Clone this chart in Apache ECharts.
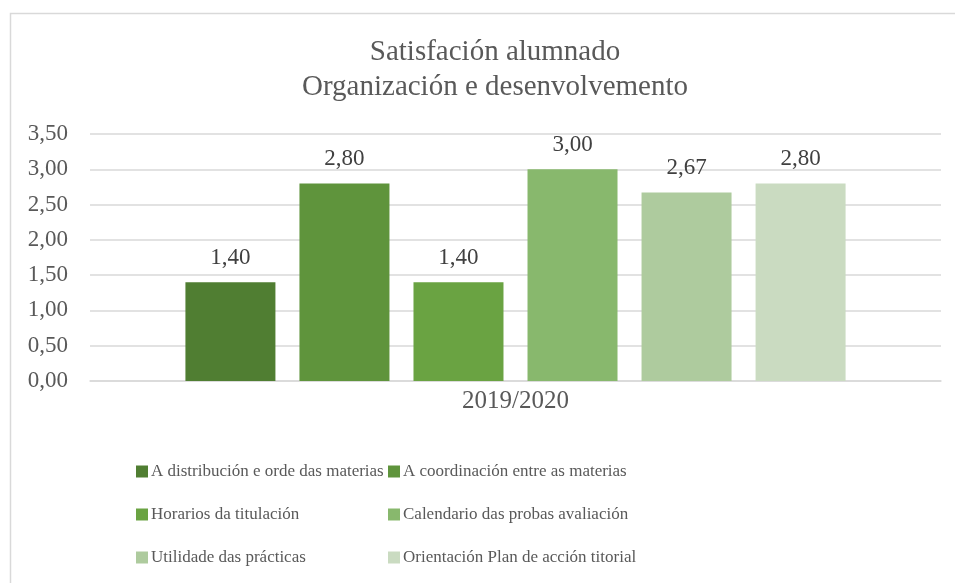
<!DOCTYPE html>
<html><head><meta charset="utf-8">
<script src="https://cdn.jsdelivr.net/npm/echarts@6/dist/echarts.min.js"></script>
<style>html,body{margin:0;padding:0;background:#fff}#c{width:955px;height:583px}</style>
</head><body><div id="c"></div>
<script>
const categories = ['2019/2020'];
const seriesNames = ['A distribución e orde das materias','A coordinación entre as materias','Horarios da titulación','Calendario das probas avaliación','Utilidade das prácticas','Orientación Plan de acción titorial'];
const seriesValues = [1.40, 2.80, 1.40, 3.00, 2.67, 2.80];
const colors = ['#507e32','#5f943c','#6aa342','#88b86d','#aecb9e','#cadbc1'];
const yTicks = {min:0, max:3.5, interval:0.5};
const FONT = 'Liberation Serif';
const fmt = v => v.toFixed(2).replace('.', ',');

const chart = echarts.init(document.getElementById('c'));
const series = seriesNames.map((n,i)=>({
  name:n, type:'bar', data:[seriesValues[i]], barWidth:90, barGap:'26.7%',
  itemStyle:{color:colors[i]},
  label:{show:true, position:'top', distance:13, formatter:p=>fmt(p.value), fontFamily:FONT, fontSize:23, color:'#404040'}
}));
const legendText = {fontFamily:FONT, fontSize:17, color:'#595959', padding:[0,0,0,-2]};
chart.setOption({
  animation:false,
  textStyle:{fontFamily:FONT},
  graphic:[{type:'rect', shape:{x:10.5,y:13.5,width:1000,height:1000}, style:{fill:'none', stroke:'#d9d9d9', lineWidth:1.5}, z:-10}],
  title:{text:'Satisfación alumnado\nOrganización e desenvolvemento', left:490, top:30, textAlign:'center',
    textStyle:{fontFamily:FONT, fontSize:29, fontWeight:'normal', color:'#595959', lineHeight:35}},
  grid:{left:90, right:14, top:134, bottom:202},
  xAxis:{type:'category', data:categories, axisTick:{show:false}, axisLine:{lineStyle:{color:'#d9d9d9', width:1.5}},
    axisLabel:{fontFamily:FONT, fontSize:25, color:'#595959', margin:8}},
  yAxis:{type:'value', min:yTicks.min, max:yTicks.max, interval:yTicks.interval,
    axisLabel:{formatter:fmt, fontFamily:FONT, fontSize:23, color:'#595959', margin:22},
    splitLine:{lineStyle:{color:'#d9d9d9', width:1.5}}, axisLine:{show:false}},
  legend:[
    {data:[seriesNames[0],seriesNames[2],seriesNames[4]], orient:'vertical', left:136, top:463, padding:0, itemGap:26, itemWidth:12, itemHeight:12, icon:'rect',
     textStyle:legendText},
    {data:[seriesNames[1],seriesNames[3],seriesNames[5]], orient:'vertical', left:388, top:463, padding:0, itemGap:26, itemWidth:12, itemHeight:12, icon:'rect',
     textStyle:legendText}
  ],
  series
});
</script></body></html>
